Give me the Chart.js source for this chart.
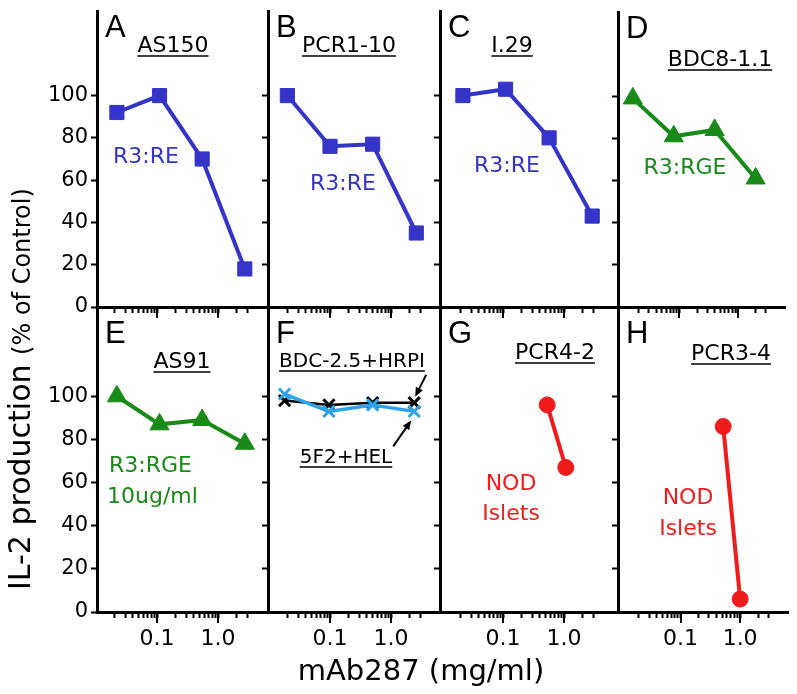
<!DOCTYPE html>
<html>
<head>
<meta charset="utf-8">
<script src="https://cdn.jsdelivr.net/npm/chart.js@4.4.0/dist/chart.umd.min.js"></script>
<style>
  html, body { margin: 0; padding: 0; background: #fff; }
  #fig { position: relative; width: 797px; height: 694px; }
  #fig canvas { position: absolute; left: 0; top: 0; }
</style>
</head>
<body>
<div id="fig"></div>
<script>
// mAb287 concentration (mg/ml) for each panel
const doseA = [0.022, 0.11, 0.55, 2.75];
const doseB = [0.02, 0.1, 0.5, 2.6];
const doseC = [0.022, 0.11, 0.57, 2.9];
const doseD = [0.016, 0.08, 0.4, 2.0];
const doseE = [0.022, 0.11, 0.55, 2.75];
const doseF = [0.018, 0.096, 0.5, 2.4];
const doseG = [0.53, 1.07];
const doseH = [0.52, 1.0];

// IL-2 production (% of control)
const il2A = [92, 100, 70, 18];
const il2B = [100, 76, 77, 35];
const il2C = [100, 103, 80, 43];
const il2D = [99, 81, 84, 61];
const il2E = [100, 87, 89, 78];
const il2F_hrpi = [98, 96, 97, 97];  // BDC-2.5 + HRPI
const il2F_hel = [101, 93, 96, 93];  // 5F2 + HEL
const il2G = [96, 67];
const il2H = [86, 6];

const yTicks = [0, 20, 40, 60, 80, 100];
const xMajor = [0.1, 1];
const xTickLabels = ['0.1', '1.0'];
const xMinor = [0.02, 0.03, 0.04, 0.05, 0.06, 0.07, 0.08, 0.09,
                0.2, 0.3, 0.4, 0.5, 0.6, 0.7, 0.8, 0.9, 2, 3];

const letters = ['A', 'B', 'C', 'D', 'E', 'F', 'G', 'H'];
const titles = ['AS150', 'PCR1-10', 'I.29', 'BDC8-1.1', 'AS91', 'BDC-2.5+HRPI', 'PCR4-2', 'PCR3-4'];
const yTitle = 'IL-2 production';
const ySubTitle = '(% of Control)';
const xTitle = 'mAb287 (mg/ml)';

const BLUE = '#3434c8', GREEN = '#178a17', RED = '#f01c1c', SKY = '#2ea3ec';

// layout of the 2 x 4 grid (px)
const W = 797, H = 694, DECADE = 61;
const COLS = [{L: 97, R: 268, p01: 157}, {L: 268, R: 440, p01: 330},
              {L: 440, R: 618, p01: 503}, {L: 618, R: 792, p01: 682}];
const ROWS = [{T: 6, B: 307}, {T: 310, B: 612}];
const FONT = '"DejaVu Sans", Verdana, sans-serif';

function series(xs, ys, color, style, r, extra) {
  return Object.assign({
    data: xs.map((x, i) => ({x: x, y: ys[i]})),
    borderColor: color, backgroundColor: color,
    pointBackgroundColor: color, pointBorderColor: color,
    borderWidth: 4, pointStyle: style, pointRadius: r, pointBorderWidth: 1,
    tension: 0, clip: false
  }, extra || {});
}

const panelDeco = {
  id: 'panelDeco',
  afterDraw(chart, args, o) {
    const ctx = chart.ctx, a = chart.chartArea, xs = chart.scales.x;
    ctx.save();
    // longer marks at the decades
    ctx.strokeStyle = '#000';
    ctx.lineWidth = 2;
    xMajor.forEach(v => {
      const px = Math.round(xs.getPixelForValue(v));
      ctx.beginPath();
      ctx.moveTo(px, a.bottom);
      ctx.lineTo(px, a.bottom + 11);
      ctx.stroke();
    });
    ctx.fillStyle = '#000';
    ctx.textBaseline = 'alphabetic';
    ctx.textAlign = 'left';
    ctx.font = '31px "Liberation Sans", Arial, sans-serif';
    ctx.fillText(o.letter, a.left + 8, a.top + o.letterY);

    o.texts.forEach(t => {
      ctx.font = (t.size || 22) + 'px ' + FONT;
      ctx.fillStyle = t.color || '#000';
      ctx.textAlign = t.align || 'center';
      const x = a.left + t.x, y = a.top + t.y;
      ctx.fillText(t.text, x, y);
      if (t.underline) {
        const w = ctx.measureText(t.text).width;
        const x0 = t.align === 'left' ? x : x - w / 2;
        ctx.strokeStyle = ctx.fillStyle;
        ctx.lineWidth = 1.5;
        ctx.beginPath();
        ctx.moveTo(x0, y + 4);
        ctx.lineTo(x0 + w, y + 4);
        ctx.stroke();
      }
    });

    (o.arrows || []).forEach(ar => {
      const p = chart.getDatasetMeta(ar.ds).data[ar.i];
      const tx = p.x + ar.dx, ty = p.y + ar.dy;
      const sx = tx + ar.lx, sy = ty + ar.ly;
      const ang = Math.atan2(ty - sy, tx - sx);
      ctx.strokeStyle = '#000';
      ctx.fillStyle = '#000';
      ctx.lineWidth = 2;
      ctx.beginPath();
      ctx.moveTo(sx, sy);
      ctx.lineTo(tx - 6 * Math.cos(ang), ty - 6 * Math.sin(ang));
      ctx.stroke();
      ctx.beginPath();
      ctx.moveTo(tx, ty);
      ctx.lineTo(tx - 10 * Math.cos(ang - 0.4), ty - 10 * Math.sin(ang - 0.4));
      ctx.lineTo(tx - 10 * Math.cos(ang + 0.4), ty - 10 * Math.sin(ang + 0.4));
      ctx.closePath();
      ctx.fill();
    });
    ctx.restore();
  }
};

const axisTitles = {
  id: 'axisTitles',
  afterDraw(chart) {
    const ctx = chart.ctx;
    ctx.save();
    ctx.fillStyle = '#000';
    ctx.textBaseline = 'alphabetic';
    ctx.textAlign = 'left';
    ctx.translate(30, 590);
    ctx.rotate(-Math.PI / 2);
    ctx.font = '30px ' + FONT;
    ctx.fillText(yTitle, 0, 0);
    const w = ctx.measureText(yTitle + ' ').width;
    ctx.font = '24px ' + FONT;
    ctx.fillText(ySubTitle, w, 0);
    ctx.restore();
    ctx.save();
    ctx.fillStyle = '#000';
    ctx.font = '29px ' + FONT;
    ctx.textAlign = 'center';
    ctx.fillText(xTitle, 421, 680);
    ctx.restore();
  }
};

function makePanel(idx, datasets, texts, arrows) {
  const col = COLS[idx % 4], row = ROWS[Math.floor(idx / 4)];
  const showY = idx % 4 === 0, showX = idx >= 4;
  const canvas = document.createElement('canvas');
  canvas.width = W;
  canvas.height = H;
  document.getElementById('fig').appendChild(canvas);
  const plugins = [panelDeco];
  if (idx === 0) plugins.push(axisTitles);

  new Chart(canvas, {
    type: 'line',
    data: {datasets: datasets},
    plugins: plugins,
    options: {
      responsive: false,
      animation: false,
      devicePixelRatio: 1,
      events: [],
      // axis boxes span from the canvas edge so their labels are not clipped
      layout: {padding: {left: 0, right: W - col.R, top: row.T, bottom: 0}},
      plugins: {
        legend: {display: false},
        tooltip: {enabled: false},
        panelDeco: {letter: letters[idx], letterY: idx < 4 ? 26 : 33, texts: texts, arrows: arrows}
      },
      scales: {
        x: {
          type: 'logarithmic',
          min: 0.1 * Math.pow(10, -(col.p01 - col.L) / DECADE),
          max: 0.1 * Math.pow(10, (col.R - col.p01) / DECADE),
          afterBuildTicks: s => {
            s.ticks = xMinor.concat(xMajor).sort((a, b) => a - b).map(v => ({value: v}));
          },
          afterFit: s => { s.height = H - row.B; s.paddingLeft = 0; s.paddingRight = 0; },
          grid: {drawOnChartArea: false, drawTicks: true, tickLength: 6, tickWidth: 2, tickColor: '#000'},
          border: {display: true, color: '#000', width: 3},
          ticks: {
            display: showX, autoSkip: false, maxRotation: 0, minRotation: 0, padding: 8,
            color: '#000', font: {family: FONT, size: 22},
            callback: v => {
              const k = xMajor.indexOf(v);
              return k >= 0 ? xTickLabels[k] : '';
            }
          }
        },
        y: {
          min: 0,
          max: 140,
          afterBuildTicks: s => { s.ticks = yTicks.map(v => ({value: v})); },
          afterFit: s => { s.width = col.L; s.paddingTop = 0; s.paddingBottom = 0; },
          grid: {drawOnChartArea: false, drawTicks: true, tickLength: 6, tickWidth: 2, tickColor: '#000'},
          border: {display: true, color: '#000', width: 3},
          ticks: {display: showY, padding: 3, color: '#000', font: {family: FONT, size: 21}}
        }
      }
    }
  });
}

makePanel(0, [series(doseA, il2A, BLUE, 'rect', 10)], [
  {text: titles[0], x: 76, y: 41, underline: true},
  {text: 'R3:RE', x: 49, y: 152, color: BLUE}
]);
makePanel(1, [series(doseB, il2B, BLUE, 'rect', 10)], [
  {text: titles[1], x: 81, y: 41, underline: true},
  {text: 'R3:RE', x: 75, y: 179, color: BLUE}
]);
makePanel(2, [series(doseC, il2C, BLUE, 'rect', 10)], [
  {text: titles[2], x: 72, y: 41, underline: true},
  {text: 'R3:RE', x: 67, y: 161, color: BLUE}
]);
makePanel(3, [series(doseD, il2D, GREEN, 'triangle', 11)], [
  {text: titles[3], x: 102, y: 54, underline: true},
  {text: 'R3:RGE', x: 67, y: 162, color: GREEN}
]);
makePanel(4, [series(doseE, il2E, GREEN, 'triangle', 11)], [
  {text: titles[4], x: 85, y: 58, underline: true},
  {text: 'R3:RGE', x: 12, y: 162, color: GREEN, align: 'left'},
  {text: '10ug/ml', x: 10, y: 193, color: GREEN, align: 'left'}
]);
makePanel(5, [
  series(doseF, il2F_hel, SKY, 'crossRot', 8, {borderWidth: 3.5, pointBorderWidth: 3, order: 0}),
  series(doseF, il2F_hrpi, '#000', 'crossRot', 8, {borderWidth: 2.5, pointBorderWidth: 3, order: 1})
], [
  {text: titles[5], x: 84, y: 57, size: 20, underline: true},
  {text: '5F2+HEL', x: 78, y: 153, size: 20, underline: true}
], [
  {ds: 1, i: 3, dx: 1, dy: -6, lx: 11, ly: -22},
  {ds: 0, i: 3, dx: -3, dy: 9, lx: -18, ly: 26}
]);
makePanel(6, [series(doseG, il2G, RED, 'circle', 8)], [
  {text: titles[6], x: 115, y: 49, underline: true},
  {text: 'NOD', x: 71, y: 180, color: RED},
  {text: 'Islets', x: 71, y: 210, color: RED}
]);
makePanel(7, [series(doseH, il2H, RED, 'circle', 8)], [
  {text: titles[7], x: 113, y: 50, underline: true},
  {text: 'NOD', x: 70, y: 194, color: RED},
  {text: 'Islets', x: 70, y: 225, color: RED}
]);
</script>
</body>
</html>
